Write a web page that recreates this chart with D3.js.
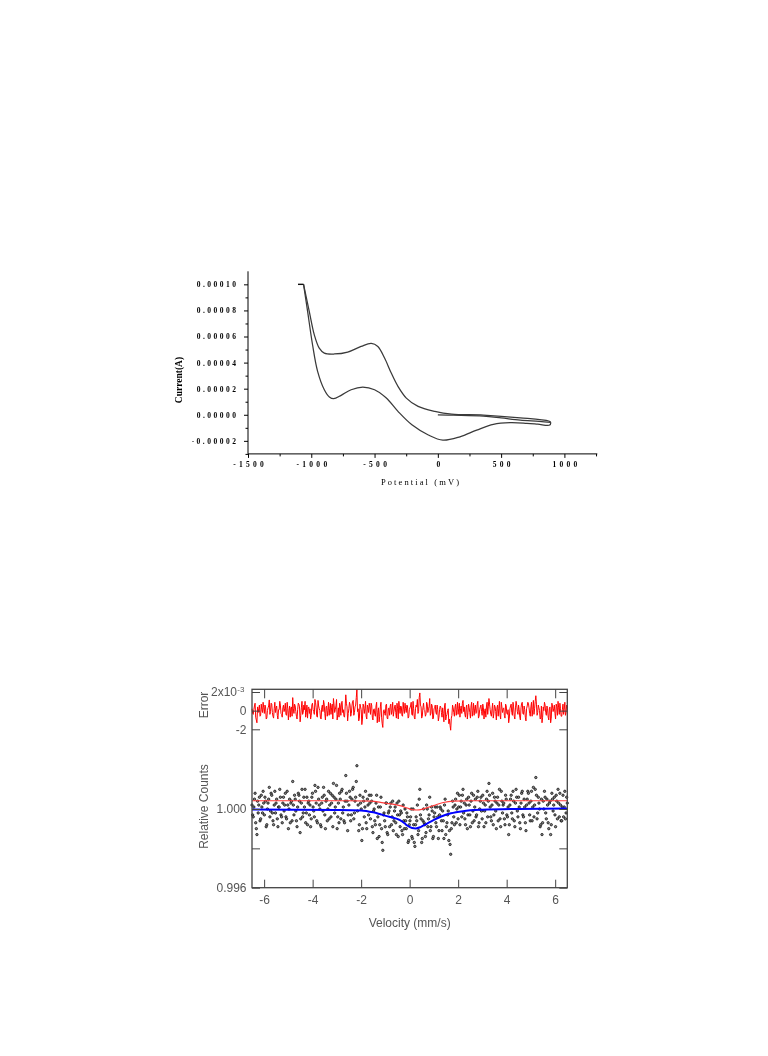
<!DOCTYPE html>
<html><head><meta charset="utf-8">
<script src="https://cdn.jsdelivr.net/npm/d3@7"></script>
<style>body{margin:0;background:#fff}svg{display:block;will-change:transform}</style>
</head><body>
<svg id="c" width="768" height="1056"></svg>
<script>
// ================= DATA: cyclic voltammogram (potential mV, current A) =================
const cvScanStart = [[0,0],[120,-0.03e-5],[360,-0.10e-5],[500,-0.24e-5],[651,-0.41e-5],[800,-0.50e-5],[893,-0.58e-5]];
const cvLowerBranch = [[893,-0.58e-5],[884,-0.79e-5],[790,-0.72e-5],[704,-0.66e-5],[571,-0.61e-5],[439,-0.74e-5],[307,-1.18e-5],[175,-1.69e-5],[40,-1.95e-5],[-75,-1.55e-5],[-205,-0.77e-5],[-315,0.26e-5],[-407,1.28e-5],[-500,1.92e-5],[-593,2.12e-5],[-685,1.92e-5],[-764,1.49e-5],[-823,1.23e-5],[-857,1.36e-5],[-897,1.92e-5],[-950,3.33e-5],[-990,5.37e-5],[-1029,7.93e-5],[-1061,10e-5]];
const cvClipStub = [[-1061,10e-5],[-1105,10e-5]];
const cvUpperBranch = [[-1061,10e-5],[-1016,7.93e-5],[-976,6.13e-5],[-937,5.11e-5],[-897,4.73e-5],[-817,4.66e-5],[-712,4.81e-5],[-606,5.24e-5],[-526,5.47e-5],[-474,5.24e-5],[-421,4.35e-5],[-368,3.2e-5],[-315,2.18e-5],[-249,1.28e-5],[-156,0.64e-5],[-24,0.26e-5],[109,0.05e-5],[360,-0.02e-5],[651,-0.23e-5],[876,-0.48e-5],[893,-0.58e-5]];
const cvXTicks = [-1500,-1000,-500,0,500,1000];
const cvXMinor = [-1250,-750,-250,250,750,1250];
const cvYTicks = [-0.00002,0,0.00002,0.00004,0.00006,0.00008,0.00010];
const cvYMinor = [-0.00003,-0.00001,0.00001,0.00003,0.00005,0.00007,0.00009];

// ================= DATA: Mossbauer spectrum (512 channels, -6.5 .. 6.5 mm/s) =================
const velocityRange = [-6.5, 6.5];
const errorE3 = [
0.2,-0.3,-0.4,0.1,0.5,0.8,-0.7,-1.0,-1.3,0.4,-0.2,0.2,0.6,-0.6,-0.5,0.7,0.1,-0.2,0.9,0.3,-0.3,0.6,0.4,-0.9,-0.8,0.0,0.3,0.5,1.15,-0.4,-0.1,0.8,
0.7,-0.2,-0.6,-0.8,0.2,0.9,-0.2,0.3,0.5,-0.5,-0.9,0.1,0.1,1.0,0.6,-0.3,-0.4,-0.7,0.3,0.6,-0.1,0.2,0.8,-0.4,-0.5,0.9,0.2,-1.0,0.0,0.5,-0.7,0.3,
0.4,-0.6,1.4,0.2,-0.3,0.7,0.5,-0.1,-0.6,-0.9,0.1,0.8,0.7,0.4,-1.2,-0.5,0.3,1.0,-0.4,-0.2,0.6,0.1,1.0,-0.7,-0.2,0.6,-0.8,0.3,0.4,-0.3,0.2,-0.9,
-0.5,0.6,0.8,0.1,-0.1,-0.4,1.2,0.9,0.3,-0.6,-0.7,1.1,0.5,0.2,0.0,-0.8,-0.9,0.3,0.6,-0.1,1.1,0.7,-0.3,-1.0,0.4,0.5,-0.6,0.0,0.9,-0.5,0.2,0.8,
-0.4,0.3,0.7,-0.9,1.3,0.6,-0.2,0.1,0.5,1.2,-1.0,-0.4,0.3,-0.7,0.8,0.5,-0.5,0.9,1.0,-0.2,0.1,-0.6,-0.7,0.4,1.7,0.8,0.4,-1.1,-0.3,0.2,0.9,0.6,
-0.6,-0.3,0.5,1.0,1.1,-0.5,-0.2,0.4,0.6,1.4,2.3,-0.1,0.2,-1.1,-0.8,0.7,0.4,0.1,-1.5,-0.9,0.7,0.5,-0.3,0.2,1.0,-0.6,-0.9,0.6,0.3,-0.2,0.8,0.4,
-0.4,0.8,0.6,-0.7,-1.0,0.1,0.2,-0.4,-0.6,0.5,0.9,-1.3,-0.2,0.3,-1.2,-0.6,0.4,0.9,-0.7,-1.4,-1.8,0.0,0.1,-0.3,-0.5,0.6,0.7,-0.8,-0.9,0.2,0.3,-0.5,
0.5,0.7,-0.4,0.0,0.9,-0.6,-0.1,0.4,0.6,-0.2,-0.8,0.8,0.2,-0.9,1.0,0.3,-0.3,0.5,0.4,-0.5,-0.6,0.9,0.1,-0.3,0.8,0.2,-0.2,0.6,0.5,-0.8,-0.7,0.1,
0.3,0.5,0.9,-0.4,-0.5,1.0,0.2,-0.7,-0.9,0.2,0.6,0.4,1.2,-0.3,-0.1,1.4,1.9,0.6,0.4,-0.8,-0.6,0.3,0.8,0.1,0.0,-0.6,-0.4,0.9,0.7,-0.2,0.2,0.4,
1.3,-0.5,-0.3,0.7,0.5,-0.9,-0.8,0.2,0.3,0.6,-0.2,-0.4,0.6,0.1,-1.1,-0.7,0.1,0.5,0.4,-0.2,-0.7,0.3,-0.3,-1.2,0.5,0.8,-1.0,-0.6,-0.4,0.0,0.2,-1.4,
-0.9,-1.6,-2.1,-0.8,-0.5,0.6,0.3,-0.2,-0.6,0.4,0.7,-0.5,0.1,0.9,-0.4,0.2,0.8,-0.7,0.2,0.5,-0.3,0.8,1.1,-0.1,0.4,-0.4,-0.7,0.3,0.6,-0.9,-0.2,0.7,
0.3,-0.2,-0.8,0.5,0.9,-0.6,0.0,0.8,-0.5,0.2,0.6,-0.3,-0.2,0.7,1.0,-0.8,-0.6,0.1,0.4,0.6,-0.1,-0.5,0.7,0.3,-0.9,0.0,0.2,-0.7,0.5,0.9,-0.4,0.4,
1.3,0.7,0.1,-0.4,-0.6,0.2,0.8,-0.8,-0.3,0.6,0.4,-0.1,-1.0,0.3,0.6,-0.6,0.2,1.0,-0.5,-0.9,0.9,0.4,-0.2,0.2,0.3,-0.5,-0.8,0.7,0.5,-0.3,-0.4,0.1,
-1.3,-0.8,0.2,0.5,0.7,-0.2,-0.5,0.9,0.4,-0.6,-0.9,0.3,1.0,0.6,-0.1,-0.4,0.6,0.1,-0.7,-1.0,0.3,0.8,0.9,-0.3,-0.4,0.5,0.1,-0.7,-1.1,0.2,0.5,0.9,
0.8,0.3,-0.3,-0.6,0.4,0.9,-0.6,0.1,1.1,-0.4,0.2,1.0,1.6,0.7,-0.5,-0.2,0.6,0.3,0.0,-0.9,-0.8,0.5,-1.3,-0.7,0.4,0.0,0.9,0.6,-0.2,-0.5,0.5,0.2,
-0.7,-1.0,0.3,0.4,-1.3,-0.8,0.8,0.5,-0.1,0.2,0.6,-0.3,-0.9,0.7,0.4,-0.5,1.0,0.3,-0.4,0.8,0.2,-0.6,-0.6,0.1,0.7,-0.4,0.1,0.9,-0.5,-0.2,0.6,0.3];
const relCounts = [
1.0002,0.9997,0.9996,1.0001,1.0005,1.0008,0.9993,0.9990,0.9987,1.0004,0.9998,1.0002,1.0006,0.9994,0.9995,1.0007,1.0001,0.9998,1.0009,1.0003,0.9997,1.0006,1.0004,0.9991,0.9992,1.0000,1.0003,1.0005,1.0011,0.9996,0.9999,1.0008,
1.0007,0.9998,0.9994,0.9992,1.0002,1.0009,0.9998,1.0003,1.0005,0.9995,0.9991,1.0001,1.0001,1.0010,1.0006,0.9997,0.9996,0.9993,1.0003,1.0006,0.9999,1.0002,1.0008,0.9996,0.9995,1.0009,1.0002,0.9990,1.0000,1.0005,0.9993,1.0003,
1.0004,0.9994,1.0014,1.0002,0.9997,1.0007,1.0005,0.9999,0.9994,0.9991,1.0001,1.0008,1.0007,1.0004,0.9988,0.9995,1.0003,1.0010,0.9996,0.9998,1.0006,1.0001,1.0010,0.9993,0.9998,1.0006,0.9992,1.0003,1.0004,0.9997,1.0002,0.9991,
0.9995,1.0006,1.0008,1.0001,0.9999,0.9996,1.0012,1.0009,1.0003,0.9994,0.9993,1.0011,1.0005,1.0002,1.0000,0.9992,0.9991,1.0003,1.0006,0.9999,1.0011,1.0007,0.9997,0.9990,1.0004,1.0005,0.9994,1.0000,1.0009,0.9995,1.0002,1.0008,
0.9996,1.0003,1.0007,0.9991,1.0013,1.0006,0.9998,1.0001,1.0005,1.0012,0.9990,0.9996,1.0003,0.9993,1.0008,1.0005,0.9995,1.0009,1.0010,0.9998,1.0001,0.9994,0.9993,1.0004,1.0017,1.0008,1.0004,0.9989,0.9997,1.0002,1.0009,1.0006,
0.9994,0.9997,1.0005,1.0010,1.0011,0.9995,0.9998,1.0004,1.0006,1.0014,1.0022,0.9999,1.0002,0.9989,0.9992,1.0007,1.0003,1.0000,0.9984,0.9990,1.0006,1.0004,0.9996,1.0001,1.0009,0.9993,0.9990,1.0005,1.0002,0.9997,1.0007,1.0003,
0.9995,1.0007,1.0004,0.9991,0.9988,0.9999,1.0000,0.9994,0.9992,1.0003,1.0007,0.9985,0.9996,1.0001,0.9986,0.9992,1.0001,1.0006,0.9990,0.9983,0.9979,0.9997,0.9998,0.9994,0.9991,1.0003,1.0003,0.9988,0.9987,0.9998,0.9999,0.9991,
1.0001,1.0003,0.9992,0.9996,1.0004,0.9989,0.9994,0.9999,1.0001,0.9993,0.9987,1.0003,0.9997,0.9986,1.0004,0.9997,0.9991,0.9999,0.9998,0.9989,0.9987,1.0002,0.9994,0.9990,1.0000,0.9994,0.9990,0.9998,0.9996,0.9983,0.9984,0.9992,
0.9994,0.9996,1.0000,0.9986,0.9985,1.0000,0.9992,0.9983,0.9981,0.9992,0.9996,0.9994,1.0002,0.9987,0.9989,1.0005,1.0010,0.9997,0.9995,0.9983,0.9985,0.9994,1.0000,0.9993,0.9992,0.9986,0.9988,1.0002,1.0000,0.9991,0.9995,0.9997,
1.0006,0.9989,0.9991,1.0001,0.9999,0.9985,0.9986,0.9996,0.9998,1.0001,0.9993,0.9991,1.0001,0.9996,0.9985,0.9989,0.9997,1.0001,1.0000,0.9994,0.9989,0.9999,0.9994,0.9985,1.0002,1.0005,0.9987,0.9991,0.9993,0.9997,0.9999,0.9984,
0.9989,0.9982,0.9977,0.9990,0.9993,1.0004,1.0001,0.9996,0.9992,1.0002,1.0005,0.9993,1.0000,1.0008,0.9995,1.0001,1.0007,0.9992,1.0001,1.0004,0.9996,1.0007,1.0010,0.9998,1.0003,0.9995,0.9992,1.0002,1.0005,0.9990,0.9997,1.0006,
1.0002,0.9997,0.9991,1.0004,1.0008,0.9993,0.9999,1.0007,0.9994,1.0001,1.0005,0.9996,0.9997,1.0006,1.0009,0.9991,0.9993,1.0000,1.0004,1.0006,0.9999,0.9995,1.0007,1.0003,0.9991,0.9999,1.0002,0.9993,1.0005,1.0009,0.9996,1.0004,
1.0013,1.0007,1.0001,0.9996,0.9994,1.0002,1.0008,0.9992,0.9997,1.0006,1.0004,0.9999,0.9990,1.0003,1.0006,0.9994,1.0002,1.0010,0.9995,0.9991,1.0009,1.0004,0.9998,1.0002,1.0003,0.9995,0.9992,1.0007,1.0005,0.9997,0.9996,1.0001,
0.9987,0.9992,1.0002,1.0005,1.0007,0.9998,0.9995,1.0009,1.0004,0.9994,0.9991,1.0003,1.0010,1.0006,0.9999,0.9996,1.0006,1.0001,0.9993,0.9990,1.0003,1.0008,1.0009,0.9997,0.9996,1.0005,1.0001,0.9993,0.9989,1.0002,1.0005,1.0009,
1.0008,1.0003,0.9997,0.9994,1.0004,1.0009,0.9994,1.0001,1.0011,0.9996,1.0002,1.0010,1.0016,1.0007,0.9995,0.9998,1.0006,1.0003,1.0000,0.9991,0.9992,1.0005,0.9987,0.9993,1.0004,1.0000,1.0009,1.0006,0.9998,0.9995,1.0005,1.0002,
0.9993,0.9990,1.0003,1.0004,0.9987,0.9992,1.0008,1.0005,0.9999,1.0002,1.0006,0.9997,0.9991,1.0007,1.0004,0.9995,1.0010,1.0003,0.9996,1.0008,1.0002,0.9994,0.9994,1.0001,1.0007,0.9996,1.0001,1.0009,0.9995,0.9998,1.0006,1.0003];
const fitTotal = [[-6.5,0.99997],[-3.0,0.99995],[-2.0,0.99993],[-1.5,0.99983],[-1.2,0.99973],[-0.8,0.99959],[-0.4,0.99943],[-0.2,0.99926],[-0.1,0.99916],[0.1,0.99903],[0.25,0.99901],[0.45,0.99908],[0.7,0.99925],[1.0,0.99945],[1.3,0.99962],[1.7,0.99978],[2.2,0.99989],[3.0,0.99996],[4.5,1.0000],[6.5,1.00002]];
const fitComponent = [[-6.5,1.00042],[-2.5,1.00042],[-1.6,1.00040],[-1.07,1.00031],[-0.7,1.00025],[-0.4,1.00017],[-0.1,1.00005],[0.1,0.99997],[0.29,0.99995],[0.5,0.99998],[0.7,1.00006],[0.98,1.00017],[1.39,1.00033],[1.8,1.00040],[2.5,1.00042],[6.5,1.00042]];
const velTicks = [-6,-4,-2,0,2,4,6];
const errTicks = [-2,0,2];
const countTicks = [0.996,0.998,1.000];
const countLabels = {0.996:"0.996", 1:"1.000"};

const svg = d3.select('#c');

// ================= TOP CHART =================
const xCV = d3.scaleLinear().domain([-1500,1260]).range([248,597.3]);
const yCV = d3.scaleLinear().domain([-0.00003,0.00011]).range([453.9,271.3]);
const gT = svg.append('g');
const serif = "'Liberation Serif','DejaVu Serif',serif";

function styleAxis(g, fam, size, col){
  g.attr('font-family', fam).attr('font-size', size);
  g.selectAll('.domain').remove();
  g.selectAll('.tick line').attr('stroke', col);
  g.selectAll('.tick text').attr('fill', col);
}
gT.append('line').attr('x1',xCV.range()[0]).attr('x2',xCV.range()[1]).attr('y1',yCV(-0.00003)).attr('y2',yCV(-0.00003)).attr('stroke','#000').attr('stroke-width',1);
gT.append('line').attr('x1',xCV(-1500)).attr('x2',xCV(-1500)).attr('y1',yCV.range()[0]).attr('y2',yCV.range()[1]).attr('stroke','#000').attr('stroke-width',1);

const lsX = 3.3;
const gxT = gT.append('g').attr('transform',`translate(0,${yCV(-0.00003)})`)
  .call(d3.axisBottom(xCV).tickValues(cvXTicks).tickSize(4).tickPadding(4).tickFormat(d=>String(d)));
styleAxis(gxT, serif, 7.5, '#000');
gxT.selectAll('.tick text').style('letter-spacing', lsX+'px').attr('dx', lsX/2).attr('font-weight','bold');
const gxTm = gT.append('g').attr('transform',`translate(0,${yCV(-0.00003)})`)
  .call(d3.axisBottom(xCV).tickValues(cvXMinor).tickSize(2.5).tickFormat(''));
styleAxis(gxTm, serif, 7.5, '#000');

const lsY = 2.5;
const gyT = gT.append('g').attr('transform',`translate(${xCV(-1500)},0)`)
  .call(d3.axisLeft(yCV).tickValues(cvYTicks).tickSize(4).tickPadding(10.5 - lsY).tickFormat(d=>d3.format('.5f')(d).replace('−','-')));
styleAxis(gyT, serif, 7.5, '#000');
gyT.selectAll('.tick text').style('letter-spacing', lsY+'px').attr('dx', lsY).attr('font-weight','bold');
const gyTm = gT.append('g').attr('transform',`translate(${xCV(-1500)},0)`)
  .call(d3.axisLeft(yCV).tickValues(cvYMinor).tickSize(2.5).tickFormat(''));
styleAxis(gyTm, serif, 7.5, '#000');

const cvLine = d3.line().x(d=>xCV(d[0])).y(d=>yCV(d[1])).curve(d3.curveCatmullRom.alpha(0.5));
[cvScanStart, cvLowerBranch, cvUpperBranch].forEach(s=>{
  gT.append('path').attr('d', cvLine(s)).attr('fill','none').attr('stroke','#3a3a3a').attr('stroke-width',1.25);
});
gT.append('path').attr('d', d3.line().x(d=>xCV(d[0])).y(d=>yCV(d[1]))(cvClipStub)).attr('fill','none').attr('stroke','#111').attr('stroke-width',1.4);

gT.append('text').attr('x',421).attr('y',485).attr('text-anchor','middle')
  .attr('font-family',serif).attr('font-size',8.5).style('letter-spacing','2.1px').attr('fill','#000')
  .text('Potential (mV)');
gT.append('text').attr('transform','translate(181.5,380) rotate(-90)').attr('text-anchor','middle')
  .attr('font-family',serif).attr('font-size',9.5).attr('font-weight','bold').attr('fill','#000')
  .text('Current(A)');

// ================= BOTTOM CHART =================
const N = errorE3.length;
const velocity = d3.range(N).map(i => velocityRange[0] + i*(velocityRange[1]-velocityRange[0])/(N-1));
const box = {l:252, r:567.3, t:689.3, b:887.7};
const xV = d3.scaleLinear().domain(velocityRange).range([box.l, box.r]);
const yE = d3.scaleLinear().domain([-2,2]).range([729.3,692]);
const yC = d3.scaleLinear().domain([0.996,1.000]).range([887.7,809]);
const sans = "'Liberation Sans',Arial,sans-serif";
const txt = '#555', axc = '#444';
const gB = svg.append('g');

gB.append('g').selectAll('circle').data(relCounts).join('circle')
  .attr('cx',(d,i)=>xV(velocity[i])).attr('cy',d=>yC(d)).attr('r',1.2)
  .attr('fill','#888').attr('stroke','#000').attr('stroke-width',0.7);
const fitLine = d3.line().x(d=>xV(d[0])).y(d=>yC(d[1])).curve(d3.curveMonotoneX);
gB.append('path').attr('d', fitLine(fitComponent)).attr('fill','none').attr('stroke','#ff3b3b').attr('stroke-width',1.2);
gB.append('path').attr('d', fitLine(fitTotal)).attr('fill','none').attr('stroke','#0000ff').attr('stroke-width',2);
gB.append('path').attr('d', d3.line().x((d,i)=>xV(velocity[i])).y(d=>yE(d))(errorE3))
  .attr('fill','none').attr('stroke','#ff0000').attr('stroke-width',1);

const gbx = gB.append('g').attr('transform',`translate(0,${box.b})`)
  .call(d3.axisBottom(xV).tickValues(velTicks).tickSizeInner(-8).tickSizeOuter(0).tickPadding(8).tickFormat(d=>String(d)));
styleAxis(gbx, sans, 12, axc); gbx.selectAll('.tick text').attr('fill',txt);
const gtx = gB.append('g').attr('transform',`translate(0,${box.t})`)
  .call(d3.axisTop(xV).tickValues(velTicks).tickSizeInner(-9).tickSizeOuter(0).tickFormat(''));
styleAxis(gtx, sans, 12, axc);
const gle = gB.append('g').attr('transform',`translate(${box.l},0)`)
  .call(d3.axisLeft(yE).tickValues(errTicks).tickSizeInner(-8).tickSizeOuter(0).tickPadding(5.5).tickFormat(d=>d===2?'':String(d)));
styleAxis(gle, sans, 12, axc); gle.selectAll('.tick text').attr('fill',txt);
const gre = gB.append('g').attr('transform',`translate(${box.r},0)`)
  .call(d3.axisRight(yE).tickValues(errTicks).tickSizeInner(-8).tickSizeOuter(0).tickFormat(''));
styleAxis(gre, sans, 12, axc);
const glc = gB.append('g').attr('transform',`translate(${box.l},0)`)
  .call(d3.axisLeft(yC).tickValues(countTicks).tickSizeInner(-8).tickSizeOuter(0).tickPadding(5.5).tickFormat(d=>countLabels[d]||''));
styleAxis(glc, sans, 12, axc); glc.selectAll('.tick text').attr('fill',txt);
const grc = gB.append('g').attr('transform',`translate(${box.r},0)`)
  .call(d3.axisRight(yC).tickValues(countTicks).tickSizeInner(-8).tickSizeOuter(0).tickFormat(''));
styleAxis(grc, sans, 12, axc);
gB.append('rect').attr('x',box.l).attr('y',box.t).attr('width',box.r-box.l).attr('height',box.b-box.t)
  .attr('fill','none').attr('stroke',axc).attr('stroke-width',1.3);

gB.append('text').attr('x',237).attr('y',yE(2)+4.3).attr('text-anchor','end').attr('font-family',sans).attr('font-size',12).attr('fill',txt).text('2x10');
gB.append('text').attr('x',237.3).attr('y',yE(2)-0.5).attr('font-family',sans).attr('font-size',8).attr('fill',txt).text('-3');

gB.append('text').attr('x',(box.l+box.r)/2).attr('y',927).attr('text-anchor','middle').attr('font-family',sans).attr('font-size',12).attr('fill',txt).text('Velocity (mm/s)');
gB.append('text').attr('transform','translate(207.5,806.5) rotate(-90)').attr('text-anchor','middle').attr('font-family',sans).attr('font-size',12).attr('fill',txt).text('Relative Counts');
gB.append('text').attr('transform','translate(207.5,705) rotate(-90)').attr('text-anchor','middle').attr('font-family',sans).attr('font-size',12).attr('fill',txt).text('Error');
</script>
</body></html>
